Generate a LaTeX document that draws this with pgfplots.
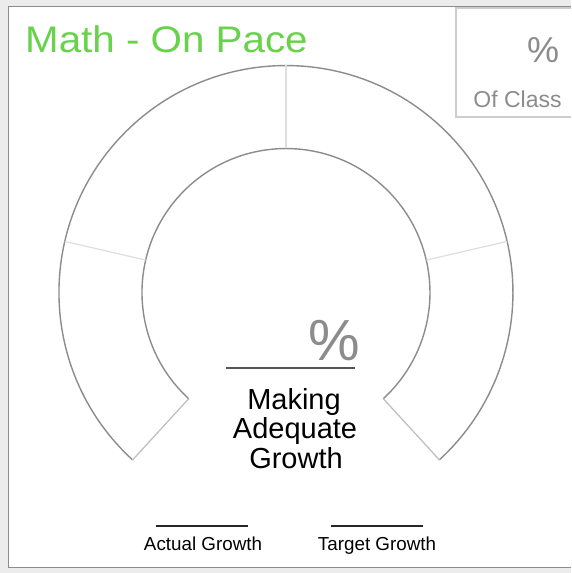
\documentclass[border=0pt]{standalone}
\usepackage{pgfplots}
\pgfplotsset{compat=1.18}
\usepackage{fontspec}
\setmainfont{Liberation Sans}
\definecolor{titlegreen}{RGB}{104,210,76}
\definecolor{arcgray}{RGB}{140,140,140}
\definecolor{divgray}{RGB}{222,222,222}
\definecolor{boxgray}{RGB}{205,205,205}
\definecolor{txtgray}{RGB}{140,140,140}
\definecolor{bggray}{RGB}{236,236,236}
\definecolor{linegray}{RGB}{85,85,85}
\begin{document}
\begin{tikzpicture}
\begin{axis}[
  xmin=0, xmax=571, ymin=0, ymax=573,
  width=571bp, height=573bp, scale only axis,
  hide axis, clip=false
]
% background and frame
\fill[bggray] (axis cs:0,0) rectangle (axis cs:571,573);
\fill[white] (axis cs:8,5) rectangle (axis cs:571,566);
\draw[color=arcgray, line width=1bp] (axis cs:571,566) -- (axis cs:8,566) -- (axis cs:8,5) -- (axis cs:571,5);
% gauge arcs
\draw[color=arcgray, line width=1.4bp] (axis cs:132.6,113.1) arc[start angle=227.5, end angle=-47.5, radius=227bp];
\draw[color=arcgray, line width=1.4bp] (axis cs:188.7,174.3) arc[start angle=227.5, end angle=-47.5, radius=144bp];
% dividers and end caps
\addplot[color=divgray, line width=1.2bp] coordinates {(64.8,331.6) (145.7,312.9)};
\addplot[color=divgray, line width=1.2bp] coordinates {(286,507.5) (286,424.5)};
\addplot[color=divgray, line width=1.2bp] coordinates {(507.2,331.6) (426.3,312.9)};
\addplot[color=divgray!85!black, line width=1.2bp] coordinates {(132.6,113.1) (188.7,174.3)};
\addplot[color=divgray!85!black, line width=1.2bp] coordinates {(439.4,113.1) (383.3,174.3)};
% title
\node[anchor=base west, text=titlegreen, inner sep=0pt, xscale=1.09, font=\fontsize{37bp}{40bp}\selectfont] at (axis cs:25,520) {Math - On Pace};
% box
\fill[white] (axis cs:456,456) rectangle (axis cs:571,565);
\draw[color=boxgray, line width=2bp] (axis cs:571,565) -- (axis cs:456,565) -- (axis cs:456,456) -- (axis cs:571,456);
\node[anchor=base, text=txtgray, inner sep=0pt, font=\fontsize{36bp}{38bp}\selectfont] at (axis cs:543,510) {\%};
\node[anchor=base, text=txtgray, inner sep=0pt, font=\fontsize{23bp}{25bp}\selectfont] at (axis cs:517.5,465) {Of Class};
% centre text
\node[anchor=base, text=txtgray, inner sep=0pt, font=\fontsize{58bp}{60bp}\selectfont] at (axis cs:334.5,212) {\%};
\draw[color=linegray, line width=1.3bp] (axis cs:226,205) -- (axis cs:355,205);
\node[anchor=base, inner sep=0pt, font=\fontsize{29bp}{30bp}\selectfont] at (axis cs:294,163) {Making};
\node[anchor=base, inner sep=0pt, font=\fontsize{29bp}{30bp}\selectfont] at (axis cs:295,134) {Adequate};
\node[anchor=base, inner sep=0pt, font=\fontsize{29bp}{30bp}\selectfont] at (axis cs:296,104) {Growth};
% bottom labels
\draw[color=black!85, line width=1.2bp] (axis cs:156,47) -- (axis cs:248,47);
\draw[color=black!85, line width=1.2bp] (axis cs:331,47) -- (axis cs:423,47);
\node[anchor=base, inner sep=0pt, font=\fontsize{18.8bp}{20bp}\selectfont] at (axis cs:203,23) {Actual Growth};
\node[anchor=base, inner sep=0pt, font=\fontsize{18.8bp}{20bp}\selectfont] at (axis cs:377,23) {Target Growth};
\end{axis}
\end{tikzpicture}
\end{document}
